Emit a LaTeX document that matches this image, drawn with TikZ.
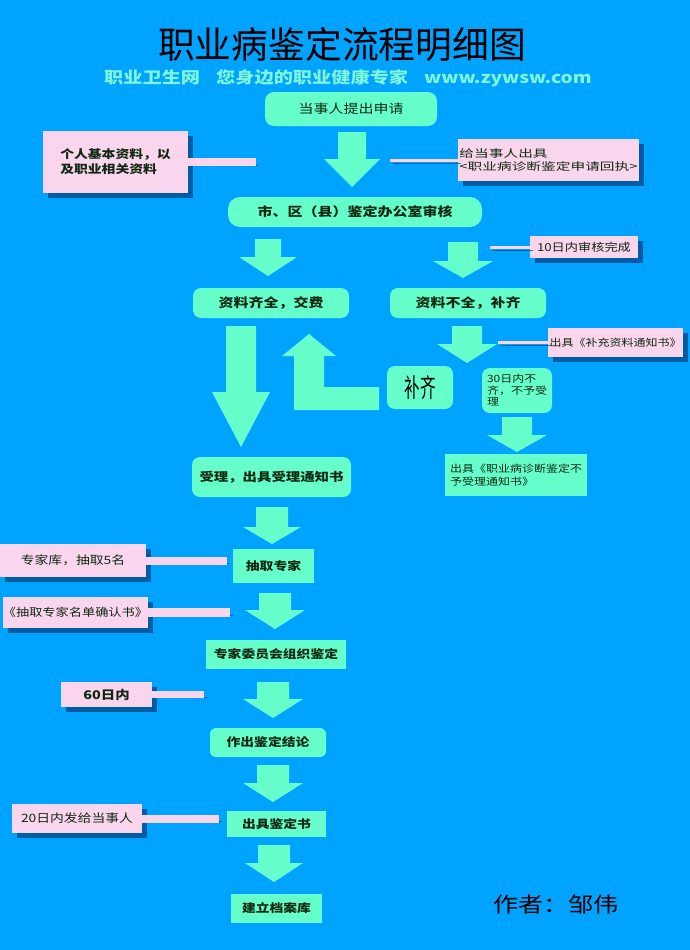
\documentclass[tikz,border=0pt]{standalone}
\usepackage{graphicx}
\usepackage{fontspec}
\setmainfont{Noto Sans CJK SC}
\newfontfamily\boxfont[FakeStretch=1.2]{Noto Sans CJK SC}
\newfontfamily\widefont[FakeStretch=1.4]{Noto Sans CJK SC}
\usetikzlibrary{positioning, shadows}

\definecolor{skyblue}{RGB}{0,163,255}
\definecolor{mintgreen}{RGB}{102,255,204}
\definecolor{notepink}{RGB}{250,214,238}
\definecolor{shadowblue}{RGB}{0,62,125}
\definecolor{inkdark}{RGB}{16,40,16}
\definecolor{subaqua}{RGB}{125,245,215}

\tikzset{
    stepbox/.style={fill=mintgreen, text=inkdark, inner sep=0pt, rounded corners=7pt, align=center,
        font=\boxfont\bfseries\fontsize{11.5}{13}\selectfont},
    squarebox/.style={stepbox, sharp corners},
    notebox/.style={fill=notepink, text=inkdark, inner sep=0pt, align=left,
        font=\boxfont\fontsize{11.5}{13}\selectfont,
        drop shadow={shadow xshift=5pt, shadow yshift=-5pt, fill=shadowblue, opacity=0.7}},
    noteline/.style={draw=notepink, line width=#1,
        preaction={draw=shadowblue, opacity=0.7, transform canvas={xshift=3pt, yshift=-3pt}}},
}

\begin{document}
\begin{tikzpicture}[x=1pt, y=-1pt]
        \useasboundingbox (0,0) rectangle (690,950);
        \fill[skyblue] (0,0) rectangle (690,950);
        % title and subtitle
        \node[font=\fontsize{36.8}{40}\selectfont, text=black] (title) at (342,45) {职业病鉴定流程明细图};
        \node[font=\boxfont\bfseries\fontsize{16}{18}\selectfont, text=subaqua] (subtitle) at (348,78)
            {职业卫生网\quad 您身边的职业健康专家\quad www.zywsw.com};
        % block arrows
        \foreach \cx/\yt/\yb/\yp/\sw/\hw in {352/132/159/187/14/28, 268/239/257/276/13/29, 463/242/261/278/15/30,
            241/326/392/447/15/29, 467/326/344/363/15/30, 517/417/435/452/15/30, 272/507/527/544/16/29,
            275/593/610/629/16/30, 273/682/699/718/16/30, 273/765/783/802/16/30, 274/845/863/882/16/29}
        {
            \fill[mintgreen] (\cx-\sw,\yt) -- (\cx+\sw,\yt) -- (\cx+\sw,\yb) -- (\cx+\hw,\yb) -- (\cx,\yp)
                -- (\cx-\hw,\yb) -- (\cx-\sw,\yb) -- cycle;
        }
        \fill[mintgreen] (282,356) -- (309,334) -- (336,356) -- (324,356) -- (324,387) -- (379,387)
            -- (379,410) -- (294,410) -- (294,356) -- cycle;
        % flow boxes
        \node[stepbox, rounded corners=9pt, minimum width=172pt, minimum height=34pt,
            font=\boxfont\fontsize{12.5}{14}\selectfont] (apply) at (351,109) {当事人提出申请};
        \node[stepbox, rounded corners=12pt, minimum width=254pt, minimum height=30pt,
            font=\boxfont\bfseries\fontsize{12.5}{14}\selectfont] (review) at (355,212) {市、区（县）鉴定办公室审核};
        \node[stepbox, rounded corners=8pt, minimum width=156pt, minimum height=30pt,
            font=\boxfont\bfseries\fontsize{12.5}{14}\selectfont] (complete) at (271,303) {资料齐全，交费};
        \node[stepbox, rounded corners=8pt, minimum width=156pt, minimum height=30pt,
            font=\boxfont\bfseries\fontsize{12.5}{14}\selectfont] (incomplete) at (468,303) {资料不全，补齐};
        \node[stepbox, rounded corners=8pt, minimum width=66pt, minimum height=43pt,
            font=\fontsize{26}{28}\selectfont, text=black] (bufill) at (420,387.5) {\scalebox{0.6}[1]{补齐}};
        \node[stepbox, rounded corners=8pt, minimum width=70pt, minimum height=45pt, align=left,
            font=\boxfont\fontsize{10}{11.5}\selectfont] (lapse) at (517,390.5) {30日内不\\齐，不予受\\理};
        \node[squarebox, minimum width=142pt, minimum height=42pt, align=left,
            font=\boxfont\fontsize{10}{12.5}\selectfont] (reject) at (516,475) {出具《职业病诊断鉴定不\\予受理通知书》};
        \node[stepbox, rounded corners=8pt, minimum width=159pt, minimum height=40pt,
            font=\boxfont\bfseries\fontsize{12}{14}\selectfont] (accept) at (271.5,477) {受理，出具受理通知书};
        \node[squarebox, minimum width=81pt, minimum height=34pt] (experts) at (273.5,566) {抽取专家};
        \node[squarebox, minimum width=140pt, minimum height=29pt] (committee) at (276,654.5) {专家委员会组织鉴定};
        \node[stepbox, rounded corners=6pt, minimum width=116pt, minimum height=29pt] (conclusion) at (268,742.5) {作出鉴定结论};
        \node[squarebox, minimum width=99pt, minimum height=26pt] (certificate) at (276.5,824) {出具鉴定书};
        \node[squarebox, minimum width=91pt, minimum height=29pt] (archive) at (276.5,908.5) {建立档案库};
        % notes
        \node[notebox, minimum width=145pt, minimum height=62pt,
            font=\boxfont\bfseries\fontsize{11.5}{15}\selectfont] (docs) at (115.5,162) {个人基本资料，以\\及职业相关资料};
        \node[notebox, minimum width=181pt, minimum height=42pt,
            font=\widefont\fontsize{10.5}{13}\selectfont] (receipt) at (548.5,160) {给当事人出具\\<职业病诊断鉴定申请回执>};
        \node[notebox, minimum width=108pt, minimum height=22pt,
            font=\boxfont\fontsize{11}{13}\selectfont] (tenday) at (584,247) {10日内审核完成};
        \node[notebox, minimum width=135pt, minimum height=29pt,
            font=\boxfont\fontsize{10}{12}\selectfont] (supply) at (615.5,342.5) {出具《补充资料通知书》};
        \node[notebox, minimum width=146pt, minimum height=33pt] (pool) at (73,560.5) {专家库，抽取5名};
        \node[notebox, minimum width=145pt, minimum height=31pt,
            font=\boxfont\fontsize{11}{13}\selectfont] (confirm) at (75.5,612.5) {《抽取专家名单确认书》};
        \node[notebox, minimum width=91pt, minimum height=25pt,
            font=\boxfont\bfseries\fontsize{12}{14}\selectfont] (sixty) at (106.5,694.5) {60日内};
        \node[notebox, minimum width=130pt, minimum height=29pt] (twenty) at (77,818.5) {20日内发给当事人};
        % note connectors
        \coordinate (docsend) at (256,162);
        \coordinate (receiptend) at (390,160);
        \coordinate (tendayend) at (490,247);
        \coordinate (supplyend) at (498,342.5);
        \coordinate (poolend) at (227,560.5);
        \coordinate (confirmend) at (230,612.5);
        \coordinate (sixtyend) at (204,694.5);
        \coordinate (twentyend) at (219,818.5);
        \draw[noteline=8pt] (docs.east) -- (docsend);
        \draw[noteline=3pt] (receiptend) -- (receipt.west);
        \draw[noteline=3pt] (tendayend) -- (tenday.west);
        \draw[noteline=3pt] (supplyend) -- (supply.west);
        \draw[noteline=8pt] (pool.east) -- (poolend);
        \draw[noteline=9pt] (confirm.east) -- (confirmend);
        \draw[noteline=7pt] (sixty.east) -- (sixtyend);
        \draw[noteline=8pt] (twenty.east) -- (twentyend);
        % author
        \node[font=\boxfont\fontsize{21}{24}\selectfont, text=black] (author) at (556,905) {作者：邹伟};
\end{tikzpicture}
\end{document}
